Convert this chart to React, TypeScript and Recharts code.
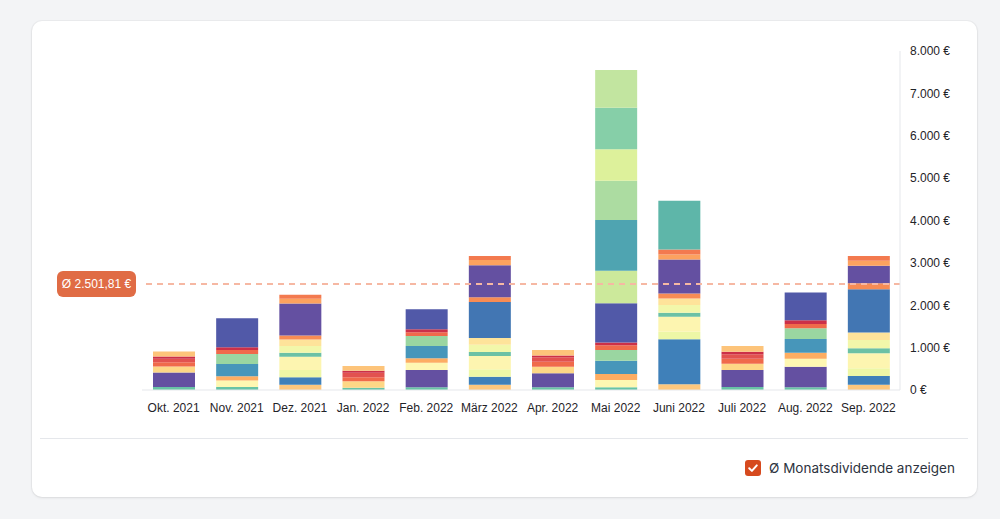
import { BarChart, Bar, XAxis, YAxis, ReferenceLine } from 'recharts'

const months = [
  'Okt. 2021', 'Nov. 2021', 'Dez. 2021', 'Jan. 2022', 'Feb. 2022', 'März 2022',
  'Apr. 2022', 'Mai 2022', 'Juni 2022', 'Juli 2022', 'Aug. 2022', 'Sep. 2022',
]

// one row per position, stacked bottom to top, one value per month (€)
const positions = [
  'Position 01', 'Position 02', 'Position 03', 'Position 04', 'Position 05', 'Position 06',
  'Position 07', 'Position 08', 'Position 09', 'Position 10', 'Position 11', 'Position 12',
  'Position 13', 'Position 14', 'Position 15', 'Position 16', 'Position 17', 'Position 18',
  'Position 19', 'Position 20', 'Position 21', 'Position 22', 'Position 23', 'Position 24',
  'Position 25', 'Position 26', 'Position 27', 'Position 28', 'Position 29', 'Position 30',
  'Position 31',
]

const dividends: number[][] = [
  [70, 70, 0, 55, 63, 0, 63, 63, 0, 71, 63, 0],
  [345, 0, 0, 0, 409, 0, 330, 0, 0, 401, 488, 0],
  [140, 0, 0, 150, 0, 0, 157, 0, 0, 150, 0, 0],
  [0, 155, 0, 0, 173, 0, 0, 173, 0, 0, 189, 0],
  [0, 100, 0, 0, 102, 0, 0, 142, 0, 0, 142, 0],
  [0, 290, 0, 0, 291, 0, 0, 315, 0, 0, 323, 0],
  [0, 236, 0, 0, 236, 0, 0, 252, 0, 0, 252, 0],
  [100, 95, 0, 94, 87, 0, 118, 110, 0, 118, 102, 0],
  [80, 0, 0, 110, 0, 0, 102, 0, 0, 102, 0, 0],
  [55, 63, 0, 47, 71, 0, 47, 63, 0, 63, 87, 0],
  [120, 0, 0, 110, 0, 0, 126, 0, 0, 134, 0, 0],
  [0, 685, 0, 0, 472, 0, 0, 928, 0, 0, 653, 0],
  [0, 0, 0, 0, 0, 0, 0, 771, 0, 0, 0, 0],
  [0, 0, 0, 0, 0, 0, 0, 1195, 0, 0, 0, 0],
  [0, 0, 0, 0, 0, 0, 0, 928, 0, 0, 0, 0],
  [0, 0, 0, 0, 0, 0, 0, 739, 0, 0, 0, 0],
  [0, 0, 0, 0, 0, 0, 0, 983, 0, 0, 0, 0],
  [0, 0, 0, 0, 0, 0, 0, 889, 0, 0, 0, 0],
  [0, 0, 125, 0, 0, 126, 0, 0, 134, 0, 0, 126],
  [0, 0, 173, 0, 0, 189, 0, 0, 1061, 0, 0, 205],
  [0, 0, 173, 0, 0, 173, 0, 0, 181, 0, 0, 181],
  [0, 0, 315, 0, 0, 315, 0, 0, 354, 0, 0, 354],
  [0, 0, 94, 0, 0, 94, 0, 0, 94, 0, 0, 118],
  [0, 0, 157, 0, 0, 173, 0, 0, 181, 0, 0, 197],
  [0, 0, 157, 0, 0, 157, 0, 0, 157, 0, 0, 173],
  [0, 0, 0, 0, 0, 850, 0, 0, 0, 0, 0, 1022],
  [0, 0, 94, 0, 0, 110, 0, 0, 118, 0, 0, 142],
  [0, 0, 755, 0, 0, 755, 0, 0, 802, 0, 0, 417],
  [0, 0, 110, 0, 0, 126, 0, 0, 118, 0, 0, 118],
  [0, 0, 94, 0, 0, 94, 0, 0, 118, 0, 0, 110],
  [0, 0, 0, 0, 0, 0, 0, 0, 1148, 0, 0, 0],
]

const colors = [
  '#68c3a6', '#6450a1', '#fed786', '#fef7b2', '#fdad62', '#4796ba',
  '#9ad6a1', '#f06a4b', '#e2524f', '#cc3048', '#fdc47a', '#5159a8',
  '#cce99b', '#4fa4b1', '#acdca1', '#ddf19b', '#86cfa8', '#c2e5a0',
  '#fdc77d', '#3f80b9', '#eef7a6', '#fdf5b0', '#6cc1a5', '#f2f7aa',
  '#fee39a', '#4276b3', '#f78c54', '#6450a1', '#fca25f', '#f37a4f',
  '#5eb6a9',
]

const yTicks = [0, 1000, 2000, 3000, 4000, 5000, 6000, 7000, 8000]
const avgDividend = 2501.81

const data = months.map((month, i) => {
  const row: Record<string, string | number> = { month }
  positions.forEach((p, k) => {
    row[p] = dividends[k][i]
  })
  return row
})

const euro = (v: number) => String(v).replace(/\B(?=(\d{3})+(?!\d))/g, '.') + ' €'

const avgLabel = 'Ø ' + avgDividend.toFixed(2).replace('.', ',').replace(/\B(?=(\d{3})+(?!\d))/g, '.') + ' €'

function AvgBadge(props: any) {
  const { viewBox } = props
  const x = viewBox.x - 85
  return (
    <g>
      <rect x={x} y={viewBox.y - 13} width={79} height={26} rx={6} fill="#e06c45" />
      <text x={x + 39.5} y={viewBox.y} dy="0.35em" textAnchor="middle" fill="#fff" fontSize={12}>
        {avgLabel}
      </text>
    </g>
  )
}

export default function App() {
  return (
    <div
      style={{
        position: 'fixed',
        left: 0,
        top: 0,
        width: 1000,
        height: 519,
        background: '#f3f4f6',
        fontFamily: '"Liberation Sans", Arial, sans-serif',
        overflow: 'hidden',
      }}
    >
      <div
        style={{
          position: 'absolute',
          left: 32,
          top: 21,
          width: 945,
          height: 476,
          background: '#fff',
          borderRadius: 10,
          boxShadow: '0 1px 3px rgba(0,0,0,0.08), 0 0 0 1px rgba(0,0,0,0.03)',
        }}
      />
      <div style={{ position: 'absolute', left: 0, top: 0 }}>
        <BarChart width={1000} height={430} data={data} margin={{ top: 51, right: 40, bottom: 10, left: 142 }}>
          <XAxis
            dataKey="month"
            interval={0}
            tickLine={false}
            axisLine={{ stroke: '#e5e7eb' }}
            tick={{ fontSize: 12, fill: '#1f2328' }}
            tickMargin={7}
            height={30}
          />
          <YAxis
            orientation="right"
            width={60}
            domain={[0, 8000]}
            ticks={yTicks}
            tickFormatter={euro}
            tickLine={false}
            axisLine={{ stroke: '#e5e7eb' }}
            tick={{ fontSize: 12, fill: '#1f2328' }}
            tickMargin={4}
          />
          {positions.map((p, k) => (
            <Bar key={p} dataKey={p} stackId="div" fill={colors[k]} barSize={42} isAnimationActive={false} />
          ))}
          <ReferenceLine
            y={avgDividend}
            stroke="#f6b8a3"
            strokeWidth={2}
            strokeDasharray="6 5"
            label={AvgBadge}
          />
        </BarChart>
      </div>
      <div style={{ position: 'absolute', left: 40, top: 438, width: 928, height: 1, background: '#e5e7eb' }} />
      <div
        style={{
          position: 'absolute',
          left: 745,
          top: 460,
          display: 'flex',
          alignItems: 'center',
          fontFamily: 'Inter, "Noto Sans", sans-serif',
          fontSize: 13.5,
          color: '#2d3340',
        }}
      >
        <svg width={16} height={16} viewBox="0 0 16 16">
          <rect x={0} y={0} width={16} height={16} rx={3} fill="#d64a1e" />
          <path d="M4.2 8.3 L6.9 10.9 L11.8 5.4" fill="none" stroke="#fff" strokeWidth={2} strokeLinecap="round" strokeLinejoin="round" />
        </svg>
        <span style={{ marginLeft: 8 }}>{avgLabel.slice(0, 2)}Monatsdividende anzeigen</span>
      </div>
    </div>
  )
}
